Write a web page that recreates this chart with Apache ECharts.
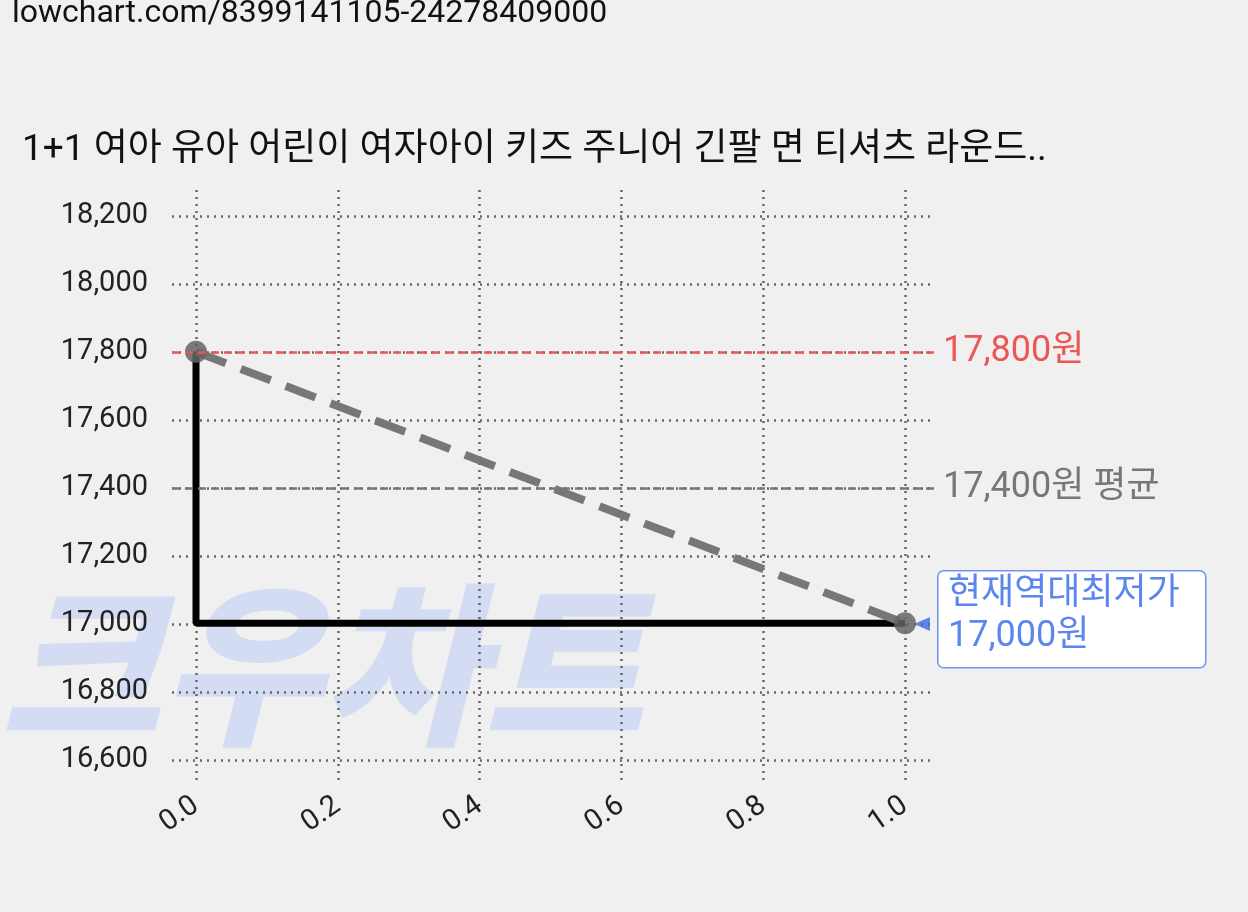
<!DOCTYPE html><html><head><meta charset="utf-8">
<script src="https://cdn.jsdelivr.net/npm/echarts@6/dist/echarts.min.js"></script>
<style>html,body{margin:0;background:#f0f0f0}#c{width:1248px;height:912px}</style></head><body><div id="c"></div><script>
const xs=[0,1];
const prices=[17800,17000];
const stepX=[0,0,1];
const stepY=[17800,17000,17000];
const maxP=17800,avgP=17400,minP=17000;
const yTicks=[16600,18200];
const F='Roboto, "Noto Sans CJK KR", sans-serif';
const ch=echarts.init(document.getElementById('c'));
const px=0.34, yMin=yTicks[0]-26/px, yMax=yTicks[1]+26/px;
ch.setOption({backgroundColor:'#f0f0f0',animation:false,textStyle:{fontFamily:F},
grid:[{left:172,right:313,top:216,bottom:152},{left:196,right:343,top:190,bottom:127}],
xAxis:[{gridIndex:0,type:'value',min:0,max:1,show:false},
{gridIndex:1,type:'value',min:0,max:1,interval:0.2,axisLine:{show:false},axisTick:{show:false},
axisLabel:{rotate:35,fontSize:29,color:'#222',fontFamily:F,margin:18,formatter:v=>v.toFixed(1)},
splitLine:{lineStyle:{type:[2,5],color:'#666',width:2.5}}}],
yAxis:[{gridIndex:0,type:'value',min:yTicks[0],max:yTicks[1],interval:200,axisLine:{show:false},axisTick:{show:false},
axisLabel:{fontSize:29,color:'#222',fontFamily:F,margin:24,formatter:v=>v.toLocaleString('en-US')},
splitLine:{lineStyle:{type:[2,5],color:'#666',width:2.5}}},
{gridIndex:1,type:'value',min:yMin,max:yMax,show:false,splitLine:{show:false}}],
graphic:[
{type:'text',left:0,top:600,z:-10,style:{text:'크우차트',fontSize:175,fontWeight:900,fontStyle:'italic',fill:'#d3dcf2',fontFamily:F}},
{type:'text',left:12,top:-2,style:{text:'lowchart.com/8399141105-24278409000',fontSize:32,fill:'#111',fontFamily:F}},
{type:'text',left:22,top:132,style:{text:'1+1 여아 유아 어린이 여자아이 키즈 주니어 긴팔 면 티셔츠 라운드..',fontSize:37,fill:'#111',fontFamily:F}},
{type:'rect',left:937,top:570,shape:{width:268,height:97,r:6},style:{fill:'#fff',stroke:'#6f95ee',lineWidth:1.5}},
{type:'text',left:948,top:574,style:{text:'현재역대최저가\n17,000원',fontSize:36,lineHeight:42,fill:'#5b86ee',fontFamily:F}},
{type:'polygon',shape:{points:[[914,624],[930,617],[930,631]]},style:{fill:'#5b86ee'}}
],
series:[
{type:'line',xAxisIndex:0,yAxisIndex:0,data:[],silent:true,
 markLine:{symbol:'none',silent:true,data:[
  {yAxis:maxP,lineStyle:{color:'#ee5555',type:[8,5],width:2.5},label:{formatter:'17,800원',color:'#ee5555',fontSize:36,position:'end',distance:8,fontFamily:F}},
  {yAxis:avgP,lineStyle:{color:'#777',type:[8,5],width:2.5},label:{formatter:'17,400원 평균',color:'#777',fontSize:36,position:'end',distance:8,fontFamily:F}}
 ]}},
{type:'line',xAxisIndex:1,yAxisIndex:1,data:[],silent:true,
 markLine:{symbol:'none',silent:true,data:[[{coord:[-0.045,minP]},{coord:[1,minP]}]],lineStyle:{color:'#5b86ee',type:[6,4],width:2},label:{show:false}}},
{type:'line',xAxisIndex:1,yAxisIndex:1,data:stepX.map((x,i)=>[x,stepY[i]]),showSymbol:false,lineStyle:{color:'#000',width:7},z:3},
{type:'line',xAxisIndex:1,yAxisIndex:1,data:xs.map((x,i)=>[x,prices[i]]),symbol:'circle',symbolSize:22,
 itemStyle:{color:'rgba(100,100,100,0.85)'},lineStyle:{color:'#777',width:8,type:[32,16]},z:4}
]});
</script></body></html>
